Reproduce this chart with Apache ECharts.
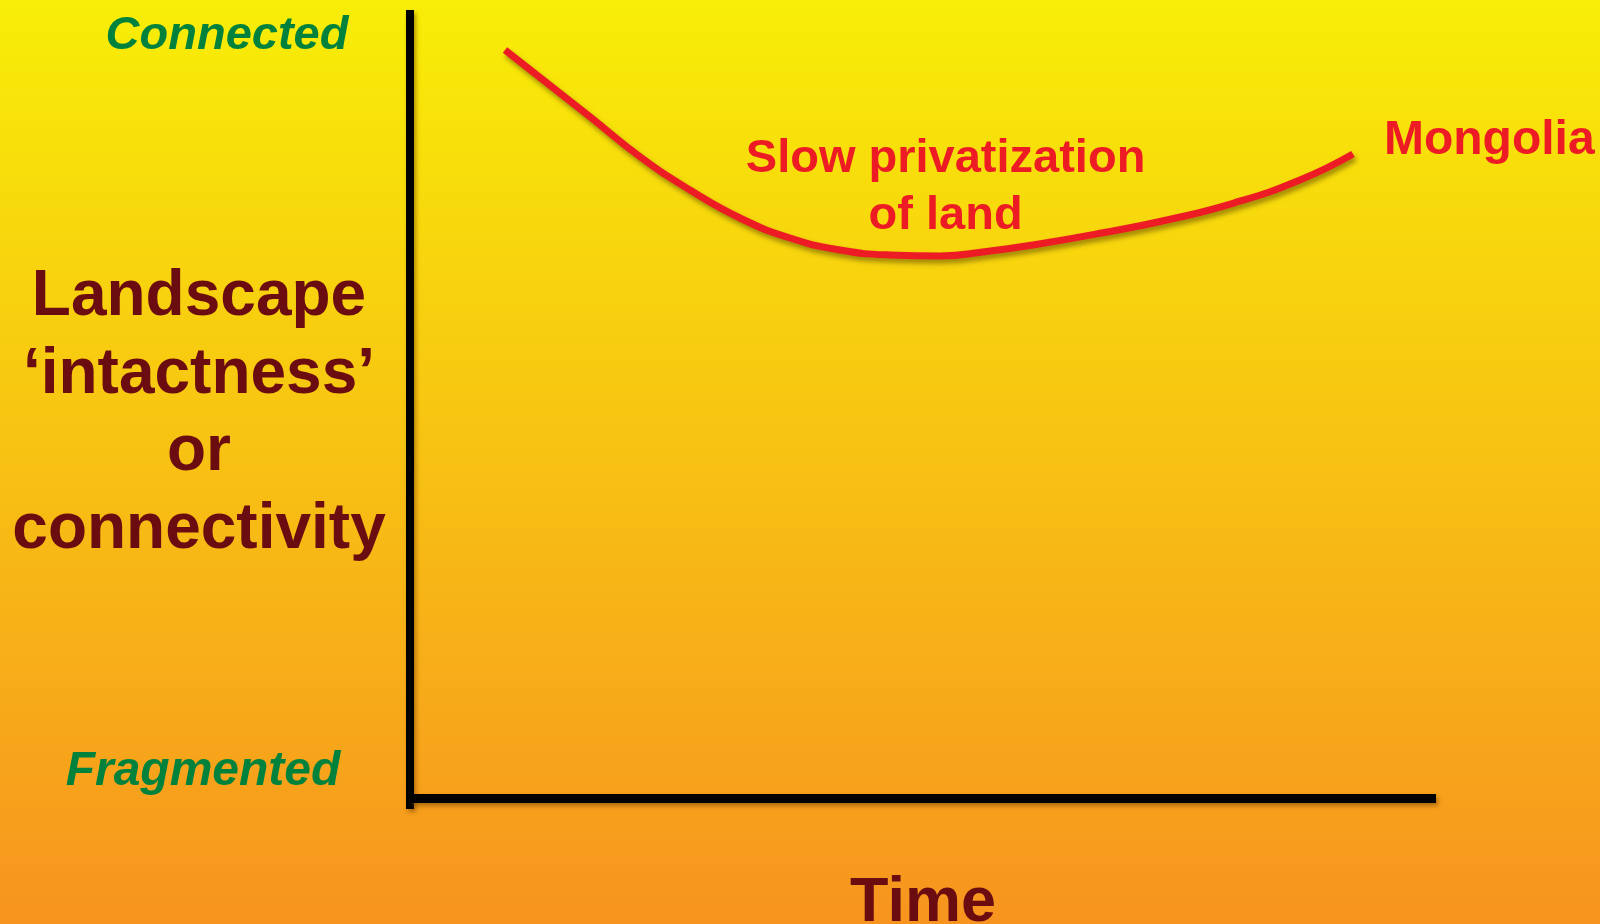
<!DOCTYPE html>
<html>
<head>
<meta charset="utf-8">
<script src="https://cdn.jsdelivr.net/npm/echarts@6/dist/echarts.min.js"></script>
<style>
html,body{margin:0;padding:0;width:1600px;height:924px;overflow:hidden;}
#chart{width:1600px;height:924px;}
</style>
</head>
<body>
<div id="chart"></div>
<script>
// Data (x: time 0-100, y: intactness -1.3..100)
const timeValues = [9.26, 17.54, 22.42, 27.29, 32.16, 37.04, 41.91, 46.78, 51.66, 56.20, 60.72, 67.25, 73.78, 80.21, 86.74, 91.91];
const intactness = [94.93, 86.47, 81.40, 77.18, 73.63, 71.09, 69.57, 68.94, 68.82, 69.38, 70.21, 71.69, 73.38, 75.49, 78.45, 81.75];
const seriesName = 'Mongolia';
const annotation = 'Slow privatization\nof land';
const annotationAt = [52.2, 77.55];
const yTitle = 'Landscape\n\u2018intactness\u2019\nor\nconnectivity';
const xTitle = 'Time';
const yTopLabel = 'Connected';
const yBottomLabel = 'Fragmented';

const points = timeValues.map((t, i) => [t, intactness[i]]);

const chart = echarts.init(document.getElementById('chart'), null, {renderer: 'canvas'});
const FONT = '"Liberation Sans", Arial, sans-serif';
const axisShadow = {shadowColor: 'rgba(120,70,0,0.55)', shadowBlur: 4, shadowOffsetX: 2, shadowOffsetY: 3};

chart.setOption({
  animation: false,
  backgroundColor: new echarts.graphic.LinearGradient(0, 0, 0, 1, [
    {offset: 0, color: '#f8ee07'},
    {offset: 1, color: '#f7941f'}
  ]),
  grid: {left: 410, right: 164, top: 10, bottom: 115, containLabel: false},
  xAxis: {
    type: 'value', min: 0, max: 100,
    axisLine: {show: true, onZero: true, lineStyle: Object.assign({color: '#000', width: 9, cap: 'butt'}, axisShadow)},
    axisTick: {show: false}, axisLabel: {show: false}, splitLine: {show: false}
  },
  yAxis: {
    type: 'value', min: -1.3, max: 100,
    axisLine: {show: true, onZero: false, lineStyle: Object.assign({color: '#000', width: 8, cap: 'butt'}, axisShadow)},
    axisTick: {show: false}, axisLabel: {show: false}, splitLine: {show: false}
  },
  series: [{
    name: seriesName,
    type: 'line',
    data: points,
    smooth: 0.5,
    symbol: 'none',
    lineStyle: {color: '#ed1c24', width: 7, shadowColor: 'rgba(110,90,0,0.65)', shadowBlur: 5, shadowOffsetX: 2, shadowOffsetY: 4},
    endLabel: {
      show: true,
      formatter: '{a}',
      color: '#ed1c24',
      fontFamily: FONT, fontWeight: 'bold', fontSize: 48,
      distance: 31, offset: [0, -13]
    },
    markPoint: {
      symbol: 'circle',
      symbolSize: 1,
      itemStyle: {color: 'rgba(0,0,0,0)'},
      data: [{coord: annotationAt, value: annotation}],
      label: {
        show: true, position: 'inside', formatter: annotation, color: '#ed1c24',
        fontFamily: FONT, fontWeight: 'bold', fontSize: 47, lineHeight: 57,
        align: 'center', verticalAlign: 'middle'
      }
    }
  }],
  graphic: [
    {type: 'text', x: 227, y: 36, style: {text: yTopLabel, fill: '#00823c', font: 'italic bold 47px ' + FONT, textAlign: 'center', textVerticalAlign: 'middle'}},
    {type: 'text', x: 203, y: 772, style: {text: yBottomLabel, fill: '#00823c', font: 'italic bold 48px ' + FONT, textAlign: 'center', textVerticalAlign: 'middle'}},
    {type: 'text', x: 199, y: 414, style: {text: yTitle, fill: '#6b0c10', font: 'bold 64px ' + FONT, lineHeight: 77.5, textAlign: 'center', textVerticalAlign: 'middle'}},
    {type: 'text', x: 923, y: 904, style: {text: xTitle, fill: '#6b0c10', font: 'bold 63px ' + FONT, textAlign: 'center', textVerticalAlign: 'middle'}}
  ]
});
</script>
</body>
</html>
